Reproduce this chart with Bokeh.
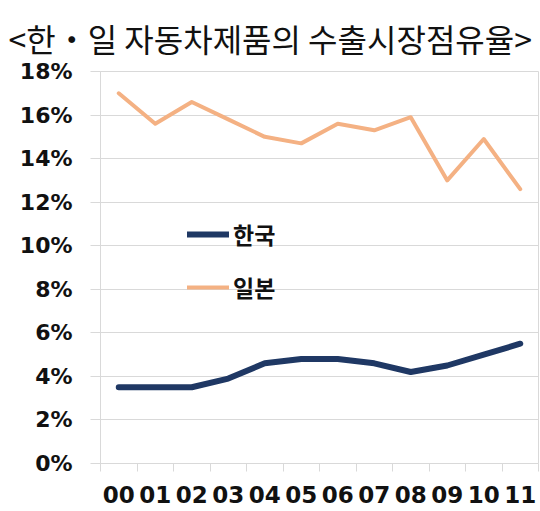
import numpy as np
from bokeh.plotting import figure
from bokeh.models import FixedTicker, Legend, LegendItem, PrintfTickFormatter, Range1d
from bokeh.embed import file_html
from bokeh.resources import INLINE

title_text = "<한・일 자동차제품의 수출시장점유율>"
years = ["00", "01", "02", "03", "04", "05", "06", "07", "08", "09", "10", "11"]
korea = [3.5, 3.5, 3.5, 3.9, 4.6, 4.8, 4.8, 4.6, 4.2, 4.5, 5.0, 5.5]
japan = [17.0, 15.6, 16.6, 15.8, 15.0, 14.7, 15.6, 15.3, 15.9, 13.0, 14.9, 12.6]
y_ticks = [0, 2, 4, 6, 8, 10, 12, 14, 16, 18]
series_names = ["한국", "일본"]

x = np.arange(len(years)) + 0.5
bounds = list(np.arange(len(years) + 1))

p = figure(width=540, height=511, output_backend="svg", toolbar_location=None,
           x_range=Range1d(0, len(years)), y_range=Range1d(0, 18),
           min_border_left=100, min_border_right=2, min_border_top=71, min_border_bottom=48)

p.title.text = title_text
p.title.text_font = "Noto Sans CJK KR"
p.title.text_font_size = "32px"
p.title.text_font_style = "normal"
p.title.text_color = "#111111"
p.title.align = "left"
p.title.offset = -92
p.title.standoff = 22

grid_col = "#D9D9D9"
p.outline_line_color = grid_col
p.xgrid.grid_line_color = None
p.ygrid.grid_line_color = grid_col
p.ygrid.ticker = FixedTicker(ticks=y_ticks)

p.yaxis.ticker = FixedTicker(ticks=y_ticks)
p.yaxis.formatter = PrintfTickFormatter(format="%d%%")
p.yaxis.axis_line_color = grid_col
p.yaxis.major_tick_line_color = grid_col
p.yaxis.major_tick_out = 10
p.yaxis.major_tick_in = 0
p.yaxis.minor_tick_line_color = None
p.yaxis.major_label_standoff = 18
p.yaxis.major_label_text_font = "DejaVu Sans"
p.yaxis.major_label_text_font_style = "bold"
p.yaxis.major_label_text_font_size = "22px"
p.yaxis.major_label_text_color = "#111111"

p.xaxis.ticker = FixedTicker(ticks=list(x), minor_ticks=bounds)
p.xaxis.major_label_overrides = {float(v): lab for v, lab in zip(x, years)}
p.xaxis.axis_line_color = grid_col
p.xaxis.major_tick_line_color = None
p.xaxis.minor_tick_line_color = grid_col
p.xaxis.minor_tick_out = 8
p.xaxis.minor_tick_in = 0
p.xaxis.major_label_standoff = 14
p.xaxis.major_label_text_font = "DejaVu Sans"
p.xaxis.major_label_text_font_style = "bold"
p.xaxis.major_label_text_font_size = "23px"
p.xaxis.major_label_text_color = "#111111"

r_k = p.line(x, korea, line_color="#1F3864", line_width=6, line_join="round", line_cap="round")
r_j = p.line(x, japan, line_color="#F4B183", line_width=4, line_join="round", line_cap="round")

legend = Legend(items=[LegendItem(label=series_names[0], renderers=[r_k]),
                       LegendItem(label=series_names[1], renderers=[r_j])],
                location=(87, 159), orientation="vertical")
legend.background_fill_alpha = 0
legend.border_line_color = None
legend.padding = 0
legend.margin = 0
legend.spacing = 19
legend.glyph_width = 42
legend.glyph_height = 30
legend.label_height = 30
legend.label_standoff = 4
legend.label_text_font = "Noto Sans CJK KR"
legend.label_text_font_style = "bold"
legend.label_text_font_size = "23px"
legend.label_text_color = "#111111"
p.add_layout(legend)

open("out.html", "w").write(file_html(p, INLINE))
